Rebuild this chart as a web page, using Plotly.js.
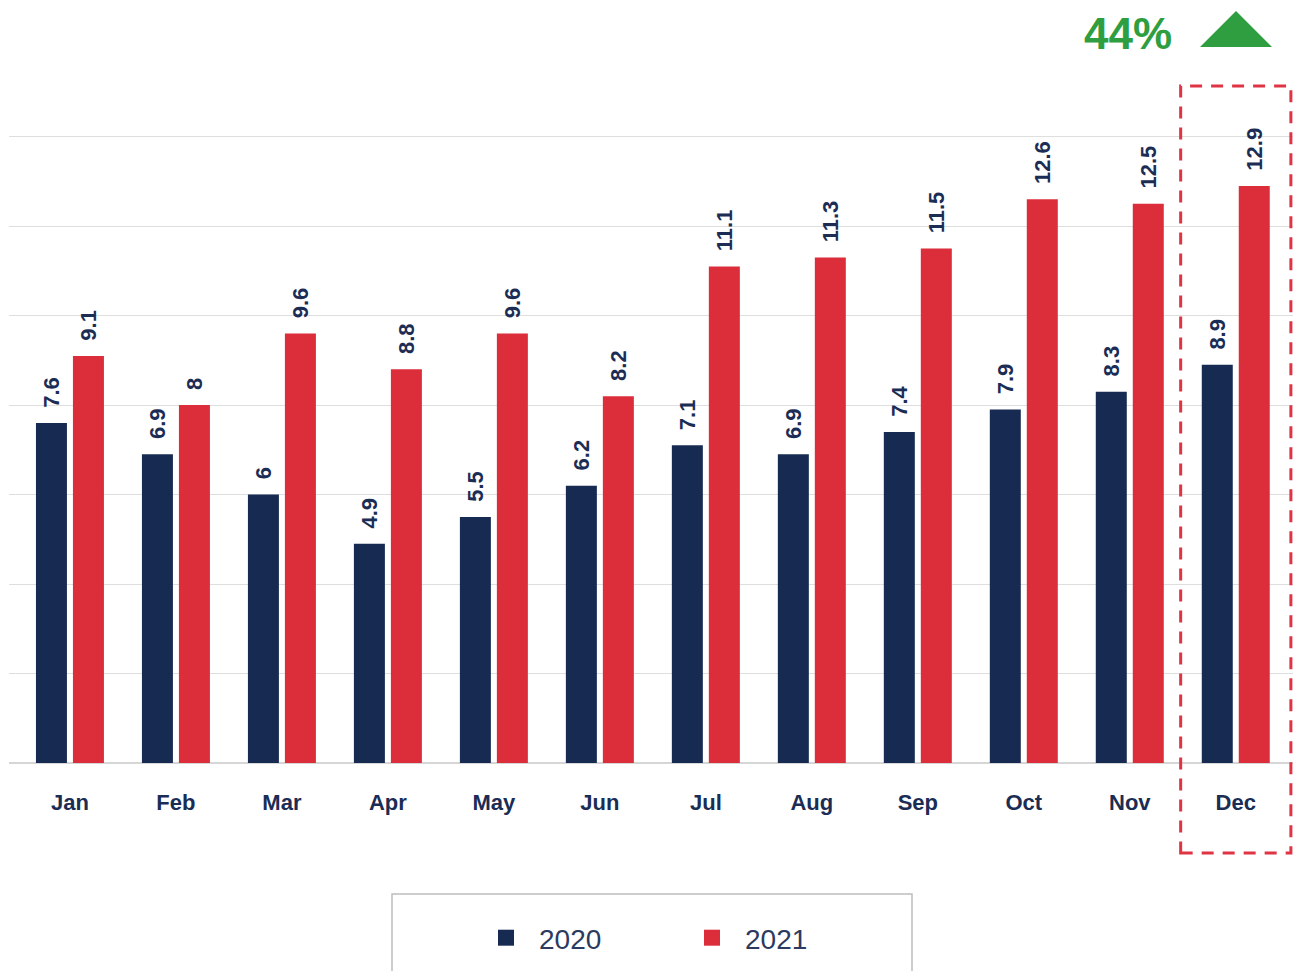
<!DOCTYPE html>
<html>
<head>
<meta charset="utf-8">
<script src="https://cdn.plot.ly/plotly-3.0.1.min.js"></script>
<style>html,body{margin:0;padding:0;background:#fff;}#chart{width:1293px;height:971px;}</style>
</head>
<body>
<div id="chart"></div>
<script>
const months = ["Jan","Feb","Mar","Apr","May","Jun","Jul","Aug","Sep","Oct","Nov","Dec"];
const values2020 = [7.6, 6.9, 6.0, 4.9, 5.5, 6.2, 7.1, 6.9, 7.4, 7.9, 8.3, 8.9];
const values2021 = [9.1, 8.0, 9.6, 8.8, 9.6, 8.2, 11.1, 11.3, 11.5, 12.6, 12.5, 12.9];
const seriesNames = ["2020", "2021"];
const changeLabel = "44%";
const highlightIndex = 11;

const NAVY = "#172b52";
const RED = "#dc2d3b";
const GREEN = "#2e9e41";
const LABEL = "#1b2d55";

const W = 1293, H = 971;
const YMAX = 14.06;
const L = 9, R = 0, B = 208;
const T = 137 - Math.round((YMAX - 14) * 44.7);
const pw = W - L - R, ph = H - T - B;
const px = x => (x - L) / pw;
const py = y => (H - B - y) / ph;

const pad = "\u00a0\u00a0";
function labels(arr){ return arr.map(v => pad + String(v)); }

const FONT = "Liberation Sans, Arial, sans-serif";
const barCommon = {
  type: "bar", x: months, textposition: "outside", textangle: -90,
  constraintext: "none", cliponaxis: false, showlegend: false, hoverinfo: "x+y",
  textfont: {family: FONT, size: 22, color: LABEL, weight: "bold"},
  outsidetextfont: {family: FONT, size: 22, color: LABEL, weight: "bold"}
};

const data = [
  Object.assign({}, barCommon, {name: seriesNames[0], y: values2020, text: labels(values2020), marker: {color: NAVY}}),
  Object.assign({}, barCommon, {name: seriesNames[1], y: values2021, text: labels(values2021), marker: {color: RED}}),
  {type: "scatter", mode: "markers", x: [null], y: [null], name: seriesNames[0], marker: {symbol: "square", size: 16, color: NAVY}, hoverinfo: "skip"},
  {type: "scatter", mode: "markers", x: [null], y: [null], name: seriesNames[1], marker: {symbol: "square", size: 16, color: RED}, hoverinfo: "skip"}
];

const tri = `M ${px(1200)} ${py(47)} L ${px(1236)} ${py(11)} L ${px(1272)} ${py(47)} Z`;

const layout = {
  width: W, height: H,
  margin: {l: L, r: R, t: T, b: B, pad: 0},
  paper_bgcolor: "#fff", plot_bgcolor: "#fff",
  barmode: "group", bargap: 0.302, bargroupgap: 0.162,
  font: {family: FONT, color: LABEL},
  xaxis: {
    type: "category", range: [-0.575, 11.54], showgrid: false, showline: false, zeroline: false,
    ticks: "", ticklabelstandoff: 24,
    tickfont: {family: FONT, size: 22, color: LABEL, weight: "bold"}
  },
  yaxis: {
    range: [0, YMAX], tickvals: [0,2,4,6,8,10,12,14], showticklabels: false,
    showgrid: true, gridcolor: "#dedede", gridwidth: 1,
    zeroline: true, zerolinecolor: "#d6d6d6", zerolinewidth: 2, showline: false, fixedrange: true
  },
  showlegend: true,
  legend: {
    orientation: "h", x: px(473), xanchor: "left", y: py(938), yanchor: "middle",
    itemwidth: 56, entrywidth: 135, bgcolor: "rgba(0,0,0,0)", borderwidth: 0,
    font: {family: FONT, size: 28, color: "#2b3a5e"}
  },
  shapes: [
    {type: "rect", xref: "paper", yref: "paper", x0: px(392), x1: px(912), y0: py(894), y1: py(1000),
     line: {color: "#bdbdbd", width: 1.5}, fillcolor: "rgba(0,0,0,0)", layer: "below"},
    {type: "rect", xref: "x", yref: "paper", x0: highlightIndex - 0.52, x1: highlightIndex + 0.52, y0: py(853), y1: py(86),
     line: {color: "#e03344", width: 3, dash: "12px,9px"}, fillcolor: "rgba(0,0,0,0)"},
    {type: "path", xref: "paper", yref: "paper", path: tri, fillcolor: GREEN, line: {width: 0}}
  ],
  annotations: [
    {xref: "paper", yref: "paper", x: px(1128), y: py(33), xanchor: "center", yanchor: "middle",
     text: "<b>" + changeLabel + "</b>", showarrow: false,
     font: {family: FONT, size: 44, color: GREEN}}
  ]
};

Plotly.newPlot("chart", data, layout, {displayModeBar: false, staticPlot: true});
</script>
</body>
</html>
